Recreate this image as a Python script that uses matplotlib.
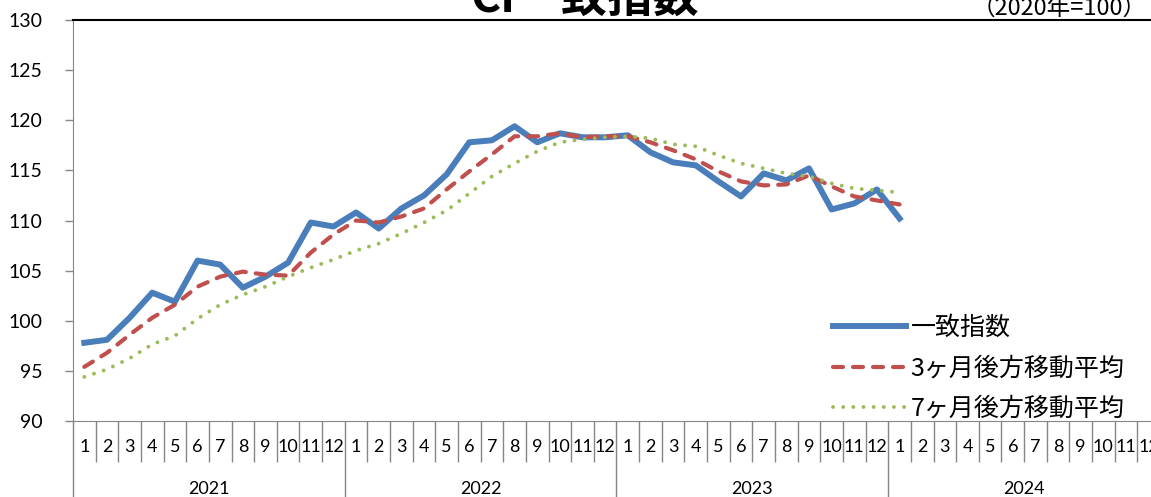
import matplotlib
matplotlib.use("Agg")
import matplotlib.pyplot as plt
import numpy as np

# CI coincident index, 2021/1 .. 2024/1 (2020 = 100)
years = ["2021", "2022", "2023", "2024"]
month_labels = [str(m) for m in range(1, 13)] * 4

coincident = [
    97.8, 98.1, 100.3, 102.8, 101.9, 106.0, 105.6, 103.3, 104.4, 105.8, 109.8, 109.4,
    110.8, 109.2, 111.2, 112.5, 114.6, 117.8, 118.0, 119.4, 117.8, 118.7, 118.3, 118.3,
    118.5, 116.8, 115.8, 115.5, 113.9, 112.4, 114.7, 114.0, 115.2, 111.1, 111.7, 113.1,
    110.2,
]
ma3 = [
    95.4, 96.8, 98.6, 100.3, 101.6, 103.4, 104.4, 104.9, 104.6, 104.5, 106.8, 108.6,
    110.0, 109.8, 110.4, 111.2, 113.1, 114.9, 116.6, 118.4, 118.4, 118.7, 118.3, 118.4,
    118.4, 117.8, 117.0, 116.1, 114.9, 113.9, 113.5, 113.6, 114.5, 113.4, 112.4, 112.0,
    111.6,
]
ma7 = [
    94.4, 95.15, 96.25, 97.65, 98.5, 100.2, 101.6, 102.6, 103.4, 104.4, 105.3, 106.1,
    107.0, 107.7, 108.7, 109.8, 111.0, 112.7, 114.4, 115.7, 116.9, 117.8, 118.1, 118.3,
    118.4, 118.2, 117.6, 117.4, 116.5, 115.7, 115.2, 114.7, 114.4, 113.7, 113.2, 113.0,
    112.8,
]

JP = ["Noto Sans CJK JP", "DejaVu Sans"]
NUM = ["Lato", "DejaVu Sans"]
GRAY = "#868686"

W, H = 1151, 497
fig = plt.figure(figsize=(W / 100, H / 100), dpi=100)
left, right, top, bottom = 73, 1160, 20, 421
ax = fig.add_axes([left / W, 1 - bottom / H, (right - left) / W, (bottom - top) / H])

x = np.arange(len(coincident))
ax.plot(x, coincident, color="#4a7ebb", lw=4.3, label="一致指数", zorder=3)
ax.plot(x, ma3, color="#c0504d", lw=3.0, dashes=(2.4, 2.4), dash_capstyle="round",
        label="3ヶ月後方移動平均", zorder=4)
ax.plot(x, ma7, color="#9bbb59", lw=2.8, dashes=(0.01, 2.6), dash_capstyle="round",
        label="7ヶ月後方移動平均", zorder=5)

n_months = len(month_labels)
ax.set_xlim(-0.5, n_months - 0.5)
ax.set_ylim(90, 130)
ax.set_yticks(np.arange(90, 131, 5))
for lab in ax.get_yticklabels():
    lab.set_family(NUM)
    lab.set_fontsize(14)
ax.tick_params(axis="y", direction="out", length=6, color=GRAY, width=1, pad=16)

# month / year separators on the category axis
month_edges = [i - 0.5 for i in range(1, n_months) if i % 12 != 0]
year_edges = [i - 0.5 for i in range(0, n_months + 1, 12)]
ax.set_xticks(month_edges)
ax.set_xticks(year_edges, minor=True)
ax.tick_params(axis="x", which="major", direction="out", length=29.5, color=GRAY,
               width=1, labelbottom=False)
ax.tick_params(axis="x", which="minor", direction="out", length=56, color=GRAY,
               width=1, labelbottom=False)

xt = ax.get_xaxis_transform()
for i, lab in enumerate(month_labels):
    ax.text(i, -0.066, lab, transform=xt, ha="center", va="center",
            fontsize=13, family=NUM, clip_on=False)
for k, yr in enumerate(years):
    ax.text(12 * k + 5.5, -0.17, yr, transform=xt, ha="center", va="center",
            fontsize=13, family=NUM, clip_on=False)

for side in ("left", "bottom"):
    ax.spines[side].set_color(GRAY)
ax.spines["top"].set_color("black")
ax.spines["top"].set_linewidth(1.5)
ax.spines["right"].set_visible(False)

leg = ax.legend(loc="upper left", bbox_to_anchor=(833 / W, 1 - 315 / H),
                bbox_transform=fig.transFigure, frameon=False,
                handlelength=2.9, handletextpad=0.2, borderpad=0, borderaxespad=0,
                labelspacing=0.58, prop={"family": JP, "size": 18})

fig.text(585 / W, 1 - 12 / H, "CI一致指数", ha="center", va="baseline",
         fontsize=33, fontweight="bold", family=JP)
fig.text(1147 / W, 1 - 15 / H, "（2020年=100）", ha="right", va="baseline",
         fontsize=17, family=JP)

fig.savefig("out.png", dpi=100)
